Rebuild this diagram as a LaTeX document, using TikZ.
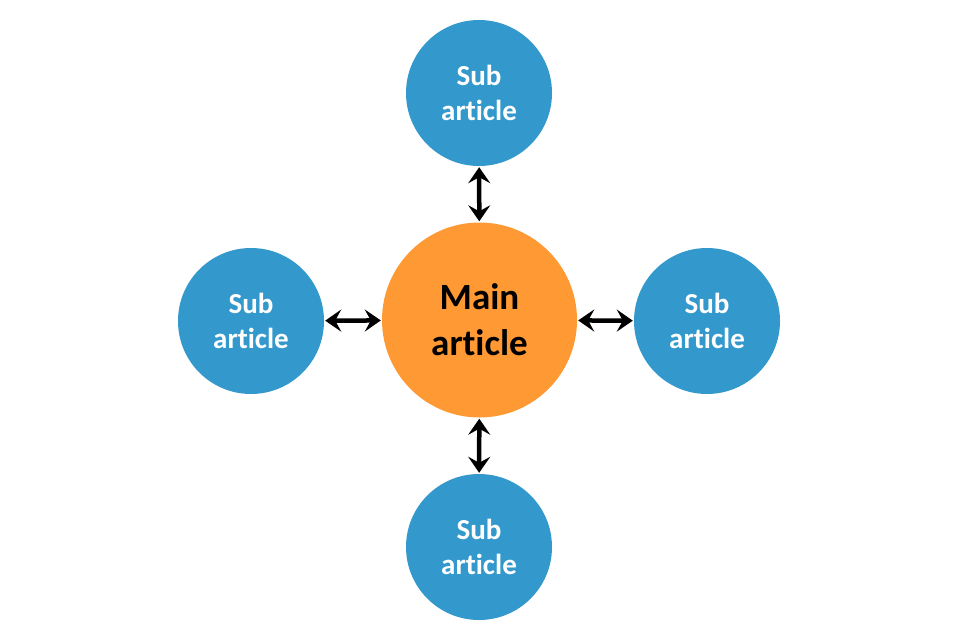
\documentclass[tikz,border=0pt]{standalone}
\usepackage{fontspec}
\setmainfont[Ligatures=NoCommon]{Carlito}
\usetikzlibrary{arrows.meta}
\definecolor{subblue}{RGB}{51,153,204}
\definecolor{mainorange}{RGB}{255,153,51}
\begin{document}
\begin{tikzpicture}[x=1pt,y=-1pt,
  subnode/.style={circle,fill=subblue,minimum size=146pt,inner sep=0pt,text=white,font=\bfseries\fontsize{29}{35}\selectfont,align=center},
  mainnode/.style={circle,fill=mainorange,minimum size=195pt,inner sep=0pt,text=black,font=\bfseries\fontsize{37}{46}\selectfont,align=center},
  link/.style={{Stealth[length=16pt,width=22pt,inset=6pt]}-{Stealth[length=16pt,width=22pt,inset=6pt]},line width=4.5pt,shorten <=1pt,shorten >=1pt}]
\useasboundingbox (0,0) rectangle (960,640);
\node[mainnode] (m) at (479.5,320) {Main\\article};
\node[subnode] (t) at (479,93) {Sub\\article};
\node[subnode] (b) at (479,547) {Sub\\article};
\node[subnode] (l) at (251,321) {Sub\\article};
\node[subnode] (r) at (707,321) {Sub\\article};
\draw[link] (t) -- (m);
\draw[link] (m) -- (b);
\draw[link] (l) -- (m);
\draw[link] (m) -- (r);
\end{tikzpicture}
\end{document}
